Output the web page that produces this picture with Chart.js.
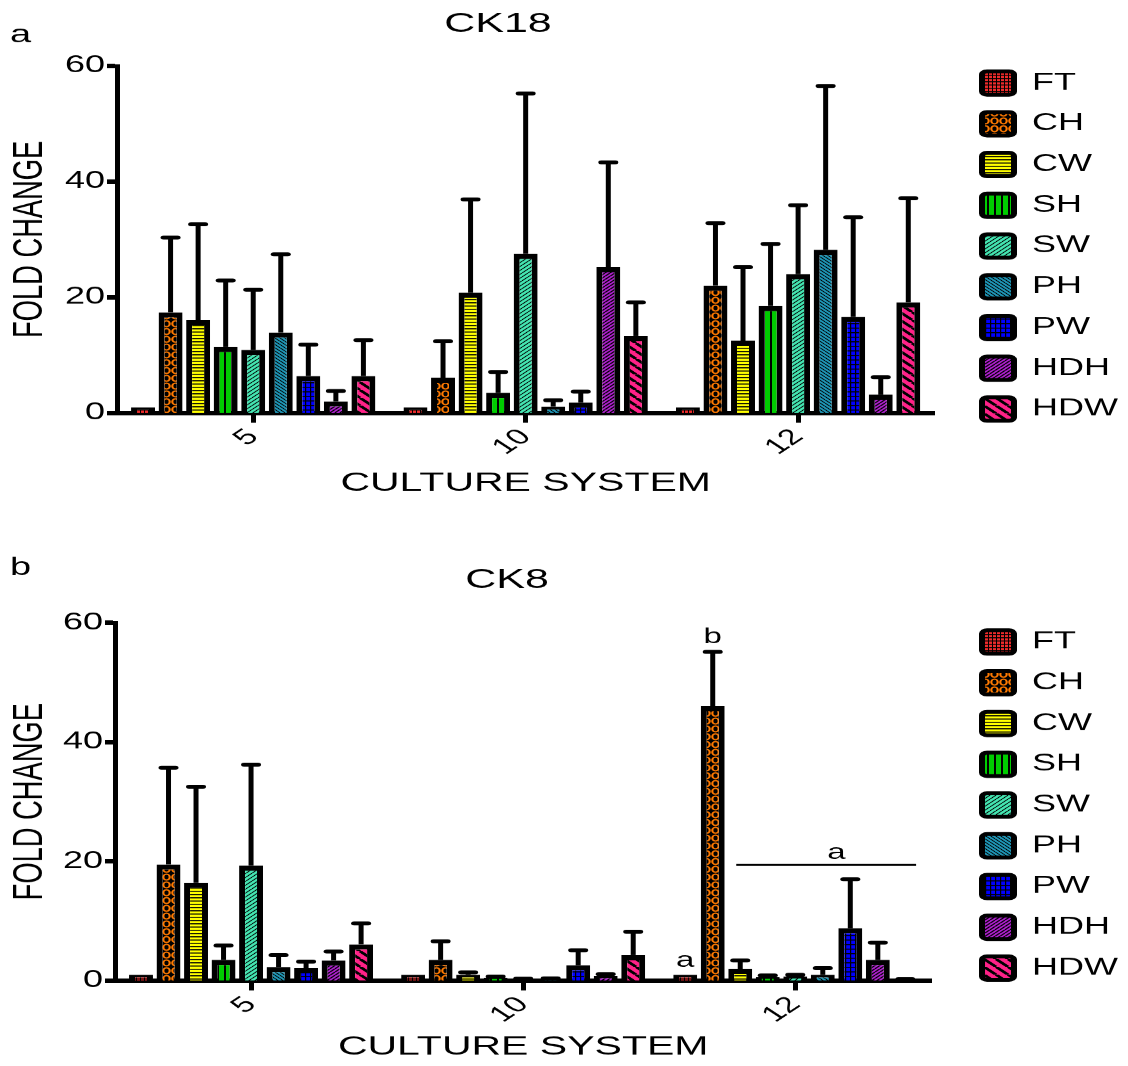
<!DOCTYPE html>
<html>
<head>
<meta charset="utf-8">
<title>CK18 / CK8 fold change</title>
<script src="https://cdn.jsdelivr.net/npm/chart.js@4.4.1/dist/chart.umd.min.js"></script>
<style>
  html, body { margin: 0; padding: 0; background: #fff; overflow: hidden; }
  /* the figure is squashed vertically, like the published image */
  .panel { position: absolute; left: 0; width: 1128px; transform-origin: 0 0; transform: scaleY(0.65); }
  #panelA { top: 0; height: 816px; }
  #panelB { top: 530px; height: 825px; }
</style>
</head>
<body>
<div class="panel" id="panelA"><canvas id="ck18Chart"></canvas></div>
<div class="panel" id="panelB"><canvas id="ck8Chart"></canvas></div>

<script>
// ---- data ----
const groups = ['5', '10', '12'];
const seriesNames = ['FT', 'CH', 'CW', 'SH', 'SW', 'PH', 'PW', 'HDH', 'HDW'];
const yMax = 60;
const yStep = 20;

// one row per series, one column per culture system (5, 10, 12)
const ck18Mean = [
	[1.0, 1.0, 1.0],     // FT
	[17.4, 6.1, 22.0],   // CH
	[16.1, 20.8, 12.5],  // CW
	[11.4, 3.5, 18.5],   // SH
	[10.9, 27.5, 24.0],  // SW
	[13.9, 1.1, 28.2],   // PH
	[6.4, 1.8, 16.6],    // PW
	[2.0, 25.2, 3.2],    // HDH
	[6.4, 13.3, 19.1]    // HDW
];
const ck18Err = [
	[0, 0, 0],
	[12.9, 6.3, 10.8],
	[16.5, 16.1, 12.7],
	[11.5, 3.6, 10.7],
	[10.4, 27.7, 11.9],
	[13.5, 1.1, 28.3],
	[5.4, 1.9, 17.2],
	[1.8, 18.1, 3.0],
	[6.2, 5.8, 18.0]
];

const ck8Mean = [
	[1.0, 1.0, 1.0],     // FT
	[19.5, 3.5, 46.0],   // CH
	[16.4, 1.0, 2.0],    // CW
	[3.5, 0.5, 0.6],     // SH
	[19.3, 0.25, 0.7],   // SW
	[2.3, 0.3, 1.0],     // PH
	[2.1, 2.6, 8.8],     // PW
	[3.4, 0.8, 3.5],     // HDH
	[6.1, 4.3, 0.15]     // HDW
];
const ck8Err = [
	[0, 0, 0],
	[16.2, 3.1, 9.1],
	[16.1, 0.4, 1.4],
	[2.4, 0.2, 0.3],
	[16.9, 0.1, 0.3],
	[2.0, 0.1, 1.1],
	[1.1, 2.5, 8.2],
	[1.5, 0.3, 2.9],
	[3.5, 3.9, 0.1]
];
const ck8SigLine = 19.4; // level of the "a" bracket over 12

const FONT = "'Liberation Sans', Arial, sans-serif";
Chart.defaults.font.family = FONT;
Chart.defaults.color = '#000';

// ---- fill patterns ----
const makePattern = (w, h, bg, draw) => {
	const c = document.createElement('canvas');
	c.width = w; c.height = h;
	const g = c.getContext('2d');
	g.fillStyle = bg;
	g.fillRect(0, 0, w, h);
	g.fillStyle = '#000';
	g.strokeStyle = '#000';
	draw(g, w, h);
	return c;
};
const diag = (g, s, lw, up) => {
	g.lineWidth = lw;
	g.beginPath();
	[-s, 0, s].forEach(x0 => {
		if (up) { g.moveTo(x0, s); g.lineTo(x0 + s, 0); }
		else { g.moveTo(x0, 0); g.lineTo(x0 + s, s); }
	});
	g.stroke();
};
const tiles = [
	makePattern(4, 5, '#ee2b2b', g => { g.fillRect(0, 0, 1, 5); g.fillRect(0, 0, 4, 1.5); }),            // FT
	makePattern(9, 12, '#000', g => { g.strokeStyle = '#ff7a00'; g.lineWidth = 2.2; g.beginPath(); g.ellipse(4.5, 6, 3.2, 4.5, 0, 0, Math.PI * 2); g.stroke(); }), // CH
	makePattern(4, 5, '#ffff00', g => { g.fillRect(0, 0, 4, 1.6); }),                                     // CW
	makePattern(7, 4, '#00cc00', g => { g.fillRect(0, 0, 2, 4); }),                                       // SH
	makePattern(6, 6, '#44e6b2', g => diag(g, 6, 1.2, true)),                                             // SW
	makePattern(5, 5, '#1f98b8', g => diag(g, 5, 1.2, false)),                                            // PH
	makePattern(5, 7, '#0000ff', g => { g.fillRect(0, 0, 1.2, 7); g.fillRect(0, 0, 5, 1.6); }),           // PW
	makePattern(5, 5, '#b020d0', g => diag(g, 5, 1.5, true)),                                             // HDH
	makePattern(12, 12, '#ff2288', g => diag(g, 12, 3.5, false))                                          // HDW
];

const buildDatasets = (means, errs, ctx) => seriesNames.map((name, i) => ({
	label: name,
	data: means[i],
	errors: errs[i],
	backgroundColor: ctx.createPattern(tiles[i], 'repeat'),
	borderColor: '#000',
	borderWidth: { top: 8, left: 6, right: 6, bottom: 0 },
	borderSkipped: 'start',
	categoryPercentage: 0.91,
	barPercentage: 0.87
}));

// upper error bars
const errorBars = {
	id: 'errorBars',
	afterDatasetsDraw(chart) {
		const { ctx, scales: { y } } = chart;
		ctx.save();
		ctx.strokeStyle = '#000';
		chart.data.datasets.forEach((ds, i) => {
			chart.getDatasetMeta(i).data.forEach((bar, j) => {
				const e = ds.errors[j];
				if (!e) return;
				const top = y.getPixelForValue(ds.data[j] + e);
				ctx.lineCap = 'butt';
				ctx.lineWidth = 5;
				ctx.beginPath();
				ctx.moveTo(bar.x, bar.y);
				ctx.lineTo(bar.x, top);
				ctx.stroke();
				ctx.lineCap = 'round';
				ctx.lineWidth = 6;
				ctx.beginPath();
				ctx.moveTo(bar.x - 7, top);
				ctx.lineTo(bar.x + 7, top);
				ctx.stroke();
			});
		});
		ctx.restore();
	}
};

// chart heading + panel letter
const header = (title, titleX, titleY, letter, letterY) => ({
	id: 'header',
	afterDraw(chart) {
		const ctx = chart.ctx;
		ctx.save();
		ctx.fillStyle = '#000';
		ctx.textBaseline = 'alphabetic';
		ctx.textAlign = 'center';
		ctx.font = `43px ${FONT}`;
		ctx.fillText(title, titleX, titleY);
		ctx.textAlign = 'left';
		ctx.font = `38px ${FONT}`;
		ctx.fillText(letter, 10, letterY);
		ctx.restore();
	}
});

// significance letters on CK8
const ck8Marks = {
	id: 'ck8Marks',
	afterDatasetsDraw(chart) {
		const { ctx, scales: { y } } = chart;
		const bar = (s, g) => chart.getDatasetMeta(s).data[g];
		const g12 = groups.indexOf('12');
		ctx.save();
		ctx.fillStyle = '#000';
		ctx.strokeStyle = '#000';
		ctx.font = `33px ${FONT}`;
		ctx.textAlign = 'center';
		ctx.textBaseline = 'alphabetic';
		const ft = bar(0, g12);
		ctx.fillText('a', ft.x, ft.y - 12);
		const ch = bar(1, g12);
		ctx.fillText('b', ch.x, y.getPixelForValue(ck8Mean[1][g12] + ck8Err[1][g12]) - 14);
		const ly = y.getPixelForValue(ck8SigLine);
		const last = bar(8, g12);
		ctx.lineWidth = 3;
		ctx.beginPath();
		ctx.moveTo(bar(2, g12).x - 4, ly);
		ctx.lineTo(last.x + last.width * 0.45, ly);
		ctx.stroke();
		ctx.fillText('a', (bar(5, g12).x + bar(6, g12).x) / 2, ly - 9);
		ctx.restore();
	}
};

const createChart = (canvasId, means, errs, cfg, extraPlugins) => {
	const ctx = document.getElementById(canvasId).getContext('2d');
	return new Chart(ctx, {
		type: 'bar',
		data: { labels: groups, datasets: buildDatasets(means, errs, ctx) },
		options: {
			responsive: true,
			maintainAspectRatio: false,
			animation: false,
			layout: { padding: 0 },
			plugins: {
				tooltip: { enabled: false },
				legend: {
					position: 'right',
					align: 'start',
					fullSize: true,
					title: { display: true, text: ' ', font: { size: 10 }, padding: cfg.legendPad },
					labels: {
						boxWidth: 32,
						boxHeight: 36,
						padding: 26.7,
						font: { size: 36 },
						color: '#000',
						useBorderRadius: true,
						borderRadius: 5,
						generateLabels: (chart) => Chart.defaults.plugins.legend.labels.generateLabels(chart)
							.map(item => Object.assign(item, { lineWidth: 6 }))
					}
				}
			},
			scales: {
				x: {
					grid: { display: true, drawOnChartArea: false, offset: false, tickLength: 15, tickWidth: 5, tickColor: '#000' },
					border: { display: true, color: '#000', width: 7 },
					ticks: { font: { size: 34 }, color: '#000', minRotation: 45, maxRotation: 45, padding: 2, autoSkip: false },
					title: { display: true, text: 'CULTURE SYSTEM', font: { size: 41 }, color: '#000', padding: { top: 0, bottom: cfg.xTitlePad } },
					afterFit: (s) => { s.height = cfg.xHeight; }
				},
				y: {
					min: 0,
					max: yMax,
					grid: { display: true, drawOnChartArea: false, tickLength: 10, tickWidth: 7, tickColor: '#000' },
					border: { display: true, color: '#000', width: 5 },
					ticks: { stepSize: yStep, font: { size: 36 }, color: '#000', padding: 2 },
					title: { display: true, text: 'FOLD CHANGE', font: { size: 42 }, color: '#000', padding: { top: 5, bottom: 0 } },
					afterFit: (s) => { s.width = cfg.yWidth; }
				},
				// empty boxes that hold the plot area in place
				spacerTop: {
					type: 'linear',
					position: 'top',
					display: true,
					grid: { display: false },
					border: { display: false },
					ticks: { display: false },
					afterFit: (s) => { s.height = cfg.areaTop; }
				},
				spacerRight: {
					type: 'linear',
					position: 'right',
					display: true,
					grid: { display: false },
					border: { display: false },
					ticks: { display: false },
					afterFit: (s) => { s.width = cfg.rightGap; }
				}
			}
		},
		plugins: [errorBars].concat(extraPlugins)
	});
};

createChart('ck18Chart', ck18Mean, ck18Err,
	{ areaTop: 101, xHeight: 180.6, xTitlePad: 48, yWidth: 117, legendPad: 35.5, rightGap: 21 },
	[header('CK18', 498, 48.8, 'a', 64.6)]);

createChart('ck8Chart', ck8Mean, ck8Err,
	{ areaTop: 142.6, xHeight: 131.6, xTitlePad: 4.4, yWidth: 115, legendPad: 57.8, rightGap: 24 },
	[header('CK8', 507, 89, 'b', 69), ck8Marks]);
</script>
</body>
</html>
